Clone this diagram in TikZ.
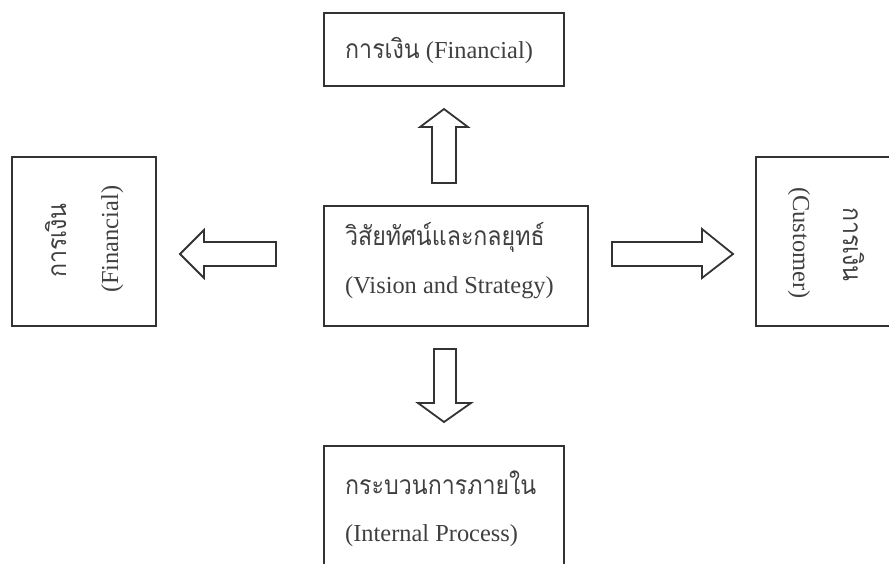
\documentclass[tikz,border=0pt]{standalone}
\usepackage{fontspec}
\setmainfont{Liberation Serif}
\newfontfamily\thaifont[Script=Thai,Scale=1.08,FakeStretch=0.88]{Loma}
\begin{document}
\begin{tikzpicture}[x=1pt,y=-1pt,
  frame/.style={draw=black!80, line width=2pt, inner sep=0pt},
  blockarrow/.style={draw=black!80, line width=1.8pt, line join=miter},
  lbl/.style={inner sep=0pt, text=black!75, font=\fontsize{24.4}{28}\selectfont}]
\useasboundingbox (0,0) rectangle (889,563);
\clip (0,0) rectangle (889,563);
% boxes
\node[frame, minimum width=240pt, minimum height=73pt] (fin) at (444,49.5) {};
\node[frame, minimum width=264pt, minimum height=120pt] (vis) at (456,266) {};
\node[frame, minimum width=240pt, minimum height=154pt] (proc) at (444,523) {};
\node[frame, minimum width=144pt, minimum height=169pt] (left) at (84,241.5) {};
\node[frame, minimum width=164pt, minimum height=169pt] (cust) at (838,241.5) {};
% texts
\node[lbl, anchor=base west] (finT) at (345,58) {{\thaifont การเงิน} (Financial)};
\node[lbl, anchor=base west] (visT) at (345,245) {\thaifont วิสัยทัศน์และกลยุทธ์};
\node[lbl, anchor=base west] (visE) at (345,293) {(Vision and Strategy)};
\node[lbl, anchor=base west] (procT) at (345,494) {\thaifont กระบวนการภายใน};
\node[lbl, anchor=base west] (procE) at (345,541) {(Internal Process)};
\node[lbl, rotate=90, anchor=base west] (leftT) at (66,278) {\thaifont การเงิน};
\node[lbl, rotate=90, anchor=base west] (leftE) at (118,293) {(Financial)};
\node[lbl, rotate=-90, anchor=base west] (custT) at (843,207) {\thaifont การเงิน};
\node[lbl, rotate=-90, anchor=base west] (custE) at (793,187) {(Customer)};
% block arrows
\draw[blockarrow] (432,183) -- (432,127) -- (420,127) -- (444,109) -- (468,127) -- (456,127) -- (456,183) -- cycle;
\draw[blockarrow] (276,242) -- (204,242) -- (204,230) -- (180,254) -- (204,278) -- (204,266) -- (276,266) -- cycle;
\draw[blockarrow] (612,242) -- (702,242) -- (702,229) -- (733,254) -- (702,278) -- (702,266) -- (612,266) -- cycle;
\draw[blockarrow] (434,349) -- (434,403) -- (418,403) -- (444,422) -- (471,403) -- (456,403) -- (456,349) -- cycle;
\end{tikzpicture}
\end{document}
